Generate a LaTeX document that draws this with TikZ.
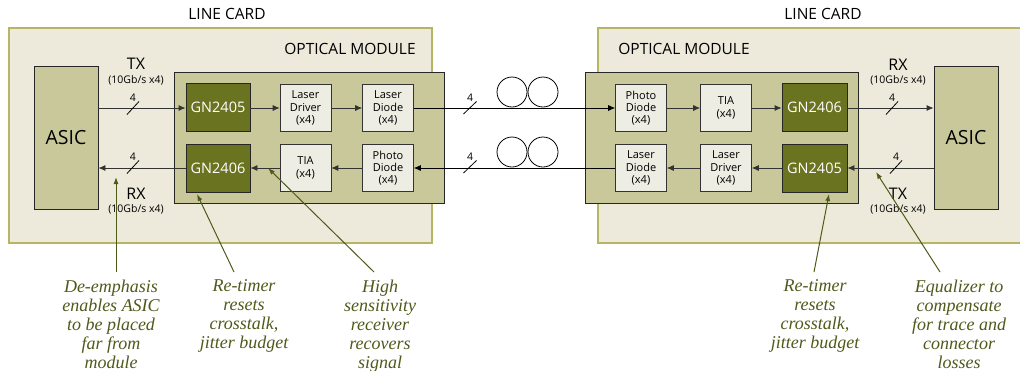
\documentclass[tikz,border=0pt]{standalone}
\usepackage{fontspec}
\setsansfont{Open Sans}
\newfontfamily\annfont{Liberation Serif}
\usetikzlibrary{arrows.meta}
\definecolor{cardfill}{HTML}{EDEADB}
\definecolor{cardline}{HTML}{B5B565}
\definecolor{modfill}{HTML}{C9C89A}
\definecolor{gnfill}{HTML}{6A7420}
\definecolor{boxfill}{HTML}{EEEDE3}
\definecolor{anncol}{HTML}{4E5A1A}
\tikzset{
  linecard/.style={draw=cardline, line width=1.8pt, fill=cardfill},
  modbox/.style={draw=black!85, line width=0.8pt, fill=modfill},
  asicbox/.style={draw=black!85, line width=0.8pt, fill=modfill, minimum width=64pt, minimum height=143pt, font=\sffamily\fontsize{19.5}{22}\selectfont},
  gnbox/.style={draw=black!85, line width=0.8pt, fill=gnfill, text=white, minimum width=64pt, minimum height=48pt, font=\sffamily\fontsize{14.5}{16}\selectfont},
  smallbox/.style={draw=black!80, line width=0.6pt, fill=boxfill, minimum width=51pt, minimum height=47pt, inner sep=1pt, align=center, font=\sffamily\fontsize{11}{12.3}\selectfont},
  sig/.style={draw=black!80, line width=0.8pt, -{Latex[length=7pt,width=6pt]}},
  fib/.style={draw=black, line width=0.8pt, -{Latex[length=7pt,width=6pt]}},
  slash/.style={draw=black, line width=0.8pt},
  num/.style={font=\sffamily\fontsize{10.5}{12}\selectfont},
  txlab/.style={font=\sffamily\fontsize{16}{18}\selectfont},
  ratelab/.style={font=\sffamily\fontsize{10.5}{12}\selectfont},
  cardlab/.style={font=\sffamily\fontsize{15.5}{17}\selectfont},
  annot/.style={text=anncol, align=center, anchor=north, font=\annfont\itshape\fontsize{18}{19}\selectfont},
  ptr/.style={draw=anncol, line width=1pt, -{Latex[length=7pt,width=5pt]}},
  coil/.style={draw=black, line width=0.8pt, circle, minimum size=30pt, inner sep=0pt}
}
\begin{document}
\begin{tikzpicture}[x=1pt,y=-1pt]
\useasboundingbox (0,0) rectangle (1020,370);
% line cards
\node[linecard, minimum width=423pt, minimum height=215pt, inner sep=0pt] (lc1) at (220.5,135.5) {};
\node[linecard, minimum width=430pt, minimum height=215pt, inner sep=0pt, anchor=west] (lc2) at (597,135.5) {};
\node[cardlab] (lcl1) at (227,14) {LINE CARD};
\node[cardlab] (lcl2) at (823,14) {LINE CARD};
% optical modules
\node[modbox, minimum width=270pt, minimum height=131pt, inner sep=0pt] (om1) at (309,137.5) {};
\node[modbox, minimum width=273pt, minimum height=131pt, inner sep=0pt] (om2) at (721.5,137.5) {};
\node[cardlab] (oml1) at (350,49) {OPTICAL MODULE};
\node[cardlab] (oml2) at (684,49) {OPTICAL MODULE};
% ASICs
\node[asicbox] (asic1) at (66,137.5) {ASIC};
\node[asicbox] (asic2) at (966,137.5) {ASIC};
% left module
\node[gnbox] (g1) at (218,107) {GN2405};
\node[gnbox] (g2) at (218,168) {GN2406};
\node[smallbox] (ldr1) at (305.5,108) {Laser\\Driver\\(x4)};
\node[smallbox] (ldi1) at (388,108) {Laser\\Diode\\(x4)};
\node[smallbox] (tia1) at (305.5,168) {TIA\\(x4)};
\node[smallbox] (pd1) at (388,168) {Photo\\Diode\\(x4)};
% right module
\node[smallbox] (pd2) at (641,108) {Photo\\Diode\\(x4)};
\node[smallbox] (tia2) at (726,108) {TIA\\(x4)};
\node[gnbox, minimum width=65pt] (g3) at (814.5,107) {GN2406};
\node[smallbox] (ldi2) at (641,168) {Laser\\Diode\\(x4)};
\node[smallbox] (ldr2) at (726,168) {Laser\\Driver\\(x4)};
\node[gnbox, minimum width=65pt] (g4) at (814.5,168) {GN2405};
% signal paths
\draw[sig] (asic1.east |- 0,108) -- (g1.west |- 0,108);
\draw[sig] (g1.east |- 0,108) -- (ldr1.west);
\draw[sig] (ldr1) -- (ldi1);
\draw[fib] (ldi1.east) -- (pd2.west);
\draw[sig] (pd2) -- (tia2);
\draw[sig] (tia2.east) -- (g3.west |- 0,108);
\draw[sig] (g3.east |- 0,108) -- (asic2.west |- 0,108);
\draw[sig] (asic2.west |- g4) -- (g4.east);
\draw[sig] (g4) -- (ldr2);
\draw[sig] (ldr2) -- (ldi2);
\draw[fib] (ldi2.west) -- (pd1.east);
\draw[sig] (pd1) -- (tia1);
\draw[sig] (tia1) -- (g2);
\draw[sig] (g2.west) -- (asic1.east |- g2);
% bus slashes and counts
\draw[slash] (127,114.5) -- (139,101.5);
\node[num] (n1) at (133,98) {4};
\draw[slash] (127,173.5) -- (139,160.5);
\node[num] (n2) at (133,157) {4};
\draw[slash] (463.5,114) -- (476.5,101.5);
\node[num] (n3) at (470,98) {4};
\draw[slash] (463.5,173) -- (476.5,160.5);
\node[num] (n4) at (470,157) {4};
\draw[slash] (886,114.5) -- (898,101.5);
\node[num] (n5) at (892,98) {4};
\draw[slash] (890,173.5) -- (902,160.5);
\node[num] (n6) at (896,157) {4};
% fibre coils
\node[coil] (c1) at (512,92) {};
\node[coil] (c2) at (543,92) {};
\node[coil] (c3) at (512,152) {};
\node[coil] (c4) at (543,152) {};
% TX/RX labels
\node[txlab] (tx1) at (136,64) {TX};
\node[ratelab] (r1) at (136,80) {(10Gb/s x4)};
\node[txlab] (rx1) at (136,194) {RX};
\node[ratelab] (r2) at (136,209) {(10Gb/s x4)};
\node[txlab] (rx2) at (898,65) {RX};
\node[ratelab] (r3) at (898,80) {(10Gb/s x4)};
\node[txlab] (tx2) at (898,194) {TX};
\node[ratelab] (r4) at (898,209) {(10Gb/s x4)};
% annotations
\node[annot] (a1) at (111,276) {De-emphasis\\enables ASIC\\to be placed\\far from\\module};
\node[annot] (a2) at (244,276) {Re-timer\\resets\\crosstalk,\\jitter budget};
\node[annot] (a3) at (380,276) {High\\sensitivity\\receiver\\recovers\\signal};
\node[annot] (a4) at (815,276) {Re-timer\\resets\\crosstalk,\\jitter budget};
\node[annot] (a5) at (959,276) {Equalizer to\\compensate\\for trace and\\connector\\losses};
\coordinate (p1s) at (116,272);
\coordinate (p1e) at (116,177);
\coordinate (p2s) at (234,272);
\coordinate (p2e) at (197,194);
\coordinate (p3s) at (374,272);
\coordinate (p3e) at (268,168);
\coordinate (p4s) at (814,272);
\coordinate (p4e) at (829,194);
\coordinate (p5s) at (940,272);
\coordinate (p5e) at (876,172);
\draw[ptr] (p1s) -- (p1e);
\draw[ptr] (p2s) -- (p2e);
\draw[ptr] (p3s) -- (p3e);
\draw[ptr] (p4s) -- (p4e);
\draw[ptr] (p5s) -- (p5e);
\end{tikzpicture}
\end{document}
